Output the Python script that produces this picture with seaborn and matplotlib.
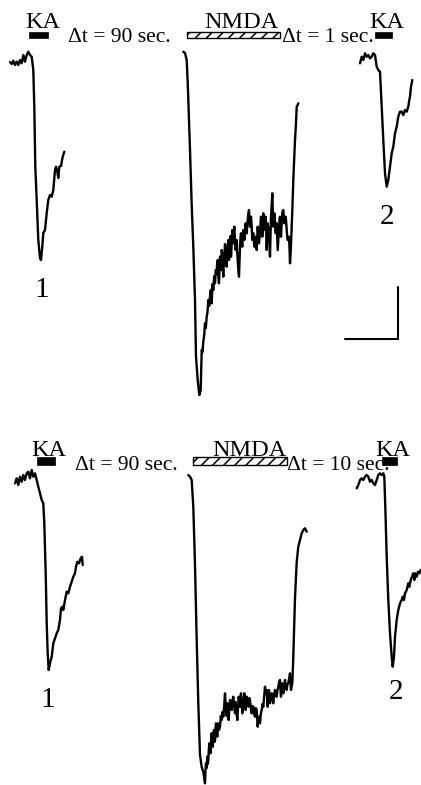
import matplotlib
matplotlib.use("Agg")
import matplotlib.pyplot as plt
from matplotlib.patches import Rectangle
import seaborn as sns

sns.set_style("white")
plt.rcParams['font.family'] = ['Liberation Serif', 'DejaVu Serif']
plt.rcParams['hatch.linewidth'] = 1.1

# ---------------- data: traces as (time, current) samples -------------
ka1_top = [(10, 62), (11.7, 64), (13.3, 60.7), (15, 65), (16.7, 61.7), (18.3, 65), (20, 60), (21.7, 63.3),
           (23.3, 55), (25, 61.7), (26.7, 55), (28.3, 51.7), (30, 55), (31.7, 56.7), (33.3, 70), (34.3, 106.7),
           (35.3, 166.7), (36.7, 200), (38.3, 240), (40, 258), (41, 260), (42.3, 246.7), (43.3, 233), (45, 230),
           (46.7, 213), (48.3, 200), (50, 195), (51.7, 196.7), (53.3, 190), (55, 170), (56, 166.7), (57.3, 171.7),
           (58.3, 178), (59.3, 166.7), (61, 166), (62.7, 156.7), (64.3, 151.7)]

nmda_top = [(183.3, 51.7), (185, 53), (186.7, 60), (188, 90), (189, 120), (190, 150), (191.7, 205), (193.3, 246.7),
            (195, 300), (196, 356.7), (197.7, 380), (199.3, 395), (200.7, 390), (201.7, 350),
            (202.5, 352), (203.3, 341.7), (204.2, 335), (205, 323.3), (205.8, 328), (206.7, 316.7), (207.5, 312),
            (208.3, 300), (209.2, 306),
            (210, 296.7), (210.8, 290), (211.7, 303.3), (212.5, 284), (213.3, 290), (214.2, 276), (215, 283.3),
            (215.8, 270), (216.7, 273.3), (217.2, 262), (217.7, 260), (218.3, 276), (219, 283.3),
            (219.5, 268), (220, 256.7), (220.5, 262), (221, 270), (221.7, 250), (222.3, 253.3), (222.8, 268),
            (223.3, 276.7), (223.8, 262), (224.3, 260), (225, 244), (225.7, 250), (226.2, 262),
            (226.7, 266.7), (227.2, 250), (227.7, 246.7), (228.3, 240), (229, 260), (229.5, 248), (230, 240),
            (230.5, 236), (231, 256.7), (231.7, 244), (232.3, 230), (232.8, 238), (233.3, 243.3),
            (233.8, 232), (234.3, 226.7), (235, 240), (235.7, 250), (236.2, 244), (236.7, 240), (237.2, 252),
            (237.7, 260), (238.3, 270), (239, 276.7), (239.5, 260), (240, 246.7), (240.5, 238),
            (241, 233.3), (241.7, 242), (242.3, 246.7), (242.8, 236), (243.3, 230), (243.8, 232), (244.3, 240),
            (245, 230), (245.7, 223.3), (246.2, 228), (246.7, 233.3), (247.2, 226), (247.7, 220),
            (248.3, 214), (249, 210), (249.5, 218), (250, 226.7), (250.5, 222), (251, 216.7), (251.7, 226),
            (252.3, 240), (252.8, 236), (253.3, 233.3), (253.8, 240), (254.3, 246.7), (255, 240),
            (255.7, 236.7), (256.2, 244), (256.7, 250), (257.2, 238), (257.7, 226.7), (258.3, 234), (259, 243.3),
            (259.5, 238), (260, 233.3), (260.5, 224), (261, 216.7), (261.7, 226), (262.3, 236.7),
            (262.8, 228), (263.3, 213.3), (263.8, 222), (264.3, 230), (265, 224), (265.7, 216.7), (266.2, 234),
            (266.7, 250), (267.2, 238), (267.7, 223.3), (268.3, 228), (269, 233.3), (269.5, 246),
            (270, 256.7), (270.5, 236), (271, 216.7), (271.7, 205), (272.3, 193.3), (272.8, 212), (273.3, 226.7),
            (273.8, 220), (274.3, 213.3), (275, 222), (275.7, 233.3), (276.2, 228), (276.7, 223.3),
            (277.2, 236), (277.7, 250), (278.3, 240), (279, 226.7), (279.5, 220), (280, 216.7), (280.5, 228),
            (281, 236.7), (281.7, 222), (282.3, 213.3), (282.8, 211), (283.3, 210), (283.8, 216),
            (284.3, 223.3), (285, 220), (285.7, 216.7), (286.2, 222), (286.7, 230), (287.2, 236), (287.7, 240),
            (288.3, 238), (289, 236.7), (289.5, 248), (290, 263.3), (290.8, 250), (291.7, 226.7),
            (292.5, 205), (293.3, 180), (294.2, 160), (295, 140), (296, 123.3), (296.7, 106.7), (297.7, 105),
            (298.3, 103.3)]

ka2_top = [(360, 63.3), (361.7, 56.7), (363.3, 60), (365, 53.3), (366.7, 56.7), (368.3, 55), (370, 58.3),
           (371.7, 56.7), (373.3, 53.3), (375, 55), (376.7, 66.7), (378.3, 70), (380, 71.7), (381.7, 106.7),
           (383.3, 140), (385, 173.3), (386.7, 186.7), (388.3, 180), (390, 166.7), (391.7, 153.3), (393.3, 146.7),
           (395, 133.3), (396.7, 126.7), (398.3, 116.7), (400, 111.7), (401.7, 111.7), (403.3, 115), (405, 110),
           (406.7, 111.7), (408.3, 106.7), (409.3, 100), (410, 96.7), (411, 86.7), (412.3, 80)]

ka1_bot = [(15, 483.3), (16.7, 478.3), (18.3, 485), (20, 476.7), (21.7, 481.7), (23.3, 475), (25, 480),
           (26.7, 473.3), (28.3, 471.7), (30, 478.3), (31.7, 470), (33.3, 476.7), (35, 473.3), (36.7, 480),
           (38.3, 486.7), (40, 493.3), (41.7, 500), (43.3, 503.3), (44.3, 523.3), (45.7, 573.3), (46.7, 623.3),
           (47.7, 653.3), (48.7, 670), (50, 663.3), (51.7, 656.7), (53.3, 643.3), (55, 638.3), (56.7, 633.3),
           (58.3, 630), (60, 620), (61, 608.3), (62.3, 606.7), (63.3, 610), (65, 600), (66.7, 591.7),
           (68.3, 593.3), (70, 586.7), (71.7, 581.7), (73.3, 576.7), (75, 573.3), (76, 566.7), (77.3, 561.7),
           (79, 563.3), (80.7, 558.3), (82, 556.7), (82.7, 565)]

nmda_bot = [(188.3, 475), (190, 476.7), (191.7, 480), (193.3, 506.7), (195, 565), (196.7, 640), (198.3, 703),
            (200, 755), (201.7, 767), (203.3, 772), (205, 783.3), (205.5, 770), (206, 763.3), (206.7, 768),
            (207.3, 756.7), (207.8, 764), (208.3, 760), (208.8, 750), (209.3, 743.3), (210, 752), (210.7, 753.3),
            (211.2, 740), (211.7, 733.3), (212.2, 742), (212.7, 746.7), (213.3, 736), (214, 730),
            (214.5, 742), (215, 740), (215.5, 728), (216, 723.3), (216.7, 732), (217.3, 736.7), (217.8, 728),
            (218.3, 723.3), (219, 730), (220, 726.7), (220.8, 716), (221.7, 720), (222.5, 712),
            (223.3, 716.7), (224.2, 706), (225, 693.3), (225.5, 702), (226, 710), (226.7, 716), (227.3, 703.3),
            (228, 712), (228.7, 720), (229.3, 708), (230, 700), (230.8, 706), (231.7, 710),
            (232.5, 700), (233.3, 696.7), (234.2, 706), (235, 713.3), (235.5, 702), (236, 706.7), (236.7, 714),
            (237.3, 720), (238, 708), (238.7, 696.7), (239.3, 702), (240, 706.7), (240.5, 698),
            (241, 693.3), (241.7, 704), (242.3, 713.3), (242.8, 706), (243.3, 703.3), (243.8, 698),
            (244.3, 693.3), (245, 702), (245.7, 710), (246.2, 700), (246.7, 696.7), (247.5, 704), (248.3, 706.7),
            (249.2, 698), (250, 700), (250.8, 708), (251.7, 713.3), (252.5, 706), (253.3, 706.7), (254.2, 714),
            (255, 716.7), (255.8, 708), (256.7, 710), (257.2, 718), (257.7, 726.7), (258.3, 720),
            (259, 716.7), (259.5, 722), (260, 723.3), (260.8, 714), (261.7, 710), (262.5, 704), (263.3, 706.7),
            (264.2, 696), (265, 686.7), (265.8, 694), (266.7, 690), (267.2, 698), (267.7, 706.7),
            (268.3, 696), (269, 690), (269.5, 698), (270, 703.3), (270.8, 696), (271.7, 693.3), (272.5, 700),
            (273.3, 703.3), (274.2, 694), (275, 690), (275.8, 694), (276.7, 696.7), (277.5, 690),
            (278.3, 686.7), (279.2, 682), (280, 680), (280.5, 690), (281, 696.7), (281.7, 688), (282.3, 683.3),
            (282.8, 690), (283.3, 693.3), (284.2, 686), (285, 680), (285.8, 686), (286.7, 690),
            (287.5, 684), (288.3, 683.3), (289.2, 678), (290, 673.3), (290.5, 682), (291, 690), (291.7, 686),
            (292.3, 683.3), (293.3, 656.7), (295, 598), (296.7, 562), (298.3, 546.7), (300, 540),
            (301.7, 533.3), (303.3, 530), (305, 528.3), (306.7, 531.7)]

ka2_bot = [(356.7, 488.3), (358.3, 485), (360, 480), (361.7, 478.3), (363.3, 480), (365, 476.7), (366.7, 475),
           (368.3, 476.7), (370, 481.7), (371.7, 480), (373.3, 483.3), (375, 485), (376.7, 480), (378.3, 475),
           (380, 473.3), (381.7, 475), (383.3, 473.3), (384.3, 476.7), (385.3, 506.7), (386.7, 556.7),
           (388.3, 600), (390, 633.3), (391.7, 656.7), (392.7, 666.7), (394, 656.7), (395, 636.7), (396.7, 620),
           (398.3, 610), (400, 603.3), (401.7, 600), (402.7, 596.7), (404, 600), (405, 593.3), (406.7, 590),
           (408.3, 583.3), (409.3, 586.7), (410.7, 580), (412, 576.7), (413.3, 573.3), (414.3, 580),
           (415.3, 573.3), (416.7, 576.7), (418, 571.7), (419.3, 573.3), (420.7, 570)]

traces = [ka1_top, nmda_top, ka2_top, ka1_bot, nmda_bot, ka2_bot]

interval_labels_top = ["\u0394t = 90 sec.", "\u0394t = 1 sec."]
interval_labels_bot = ["\u0394t = 90 sec.", "\u0394t = 10 sec."]
drug_labels = ["KA", "NMDA", "KA"]
response_labels = ["1", "2"]

# ---------------- figure ----------------
fig = plt.figure(figsize=(4.21, 7.85), dpi=100)
ax = fig.add_axes([0, 0, 1, 1])
ax.set_xlim(0, 421)
ax.set_ylim(785, 0)
ax.axis("off")

for tr in traces:
    t = [p[0] for p in tr]
    i = [p[1] for p in tr]
    sns.lineplot(x=t, y=i, sort=False, estimator=None, color="black", lw=1.7, ax=ax)

def bar(x0, x1, y0, y1, hatched=False):
    if hatched:
        ax.add_patch(Rectangle((x0, y0), x1 - x0, y1 - y0, facecolor="white",
                               edgecolor="black", hatch="///", lw=1.0))
    else:
        ax.add_patch(Rectangle((x0, y0), x1 - x0, y1 - y0, facecolor="black",
                               edgecolor="black", lw=0.5))

tkw = dict(color="black", ha="center", va="baseline", fontsize=17.5)
dkw = dict(color="black", ha="left", va="baseline", fontsize=15.5)

# top row
ax.text(42.5, 28.5, drug_labels[0], **tkw)
bar(29, 48, 31.7, 38.3)
ax.text(68, 42, interval_labels_top[0], **dkw)
bar(186.7, 280, 31.7, 38.3, hatched=True)
ax.text(241.5, 28.5, drug_labels[1], **tkw)
ax.text(281.7, 42, interval_labels_top[1], **dkw)
ax.text(386.7, 28.5, drug_labels[2], **tkw)
bar(375, 391.7, 31.7, 38.3)

# bottom row
ax.text(49, 455.5, drug_labels[0], **tkw)
bar(36.7, 55, 456.7, 465)
ax.text(75, 470, interval_labels_bot[0], **dkw)
bar(193.3, 286.7, 456.7, 465, hatched=True)
ax.text(249, 455.5, drug_labels[1], **tkw)
ax.text(286.7, 470, interval_labels_bot[1], **dkw)
ax.text(393, 455.5, drug_labels[2], **tkw)
bar(381.7, 396.7, 456.7, 465)

# response numbers
lkw = dict(color="black", ha="center", va="center", fontsize=21)
ax.text(41.7, 290, response_labels[0], **lkw)
ax.text(386.7, 216.7, response_labels[1], **lkw)
ax.text(47.7, 700, response_labels[0], **lkw)
ax.text(395.7, 691.7, response_labels[1], **lkw)

# scale bar
ax.plot([345, 397.5, 397.5], [339, 339, 286.5], color="black", lw=1.5, solid_joinstyle="miter")

fig.savefig("out.png", dpi=100)
